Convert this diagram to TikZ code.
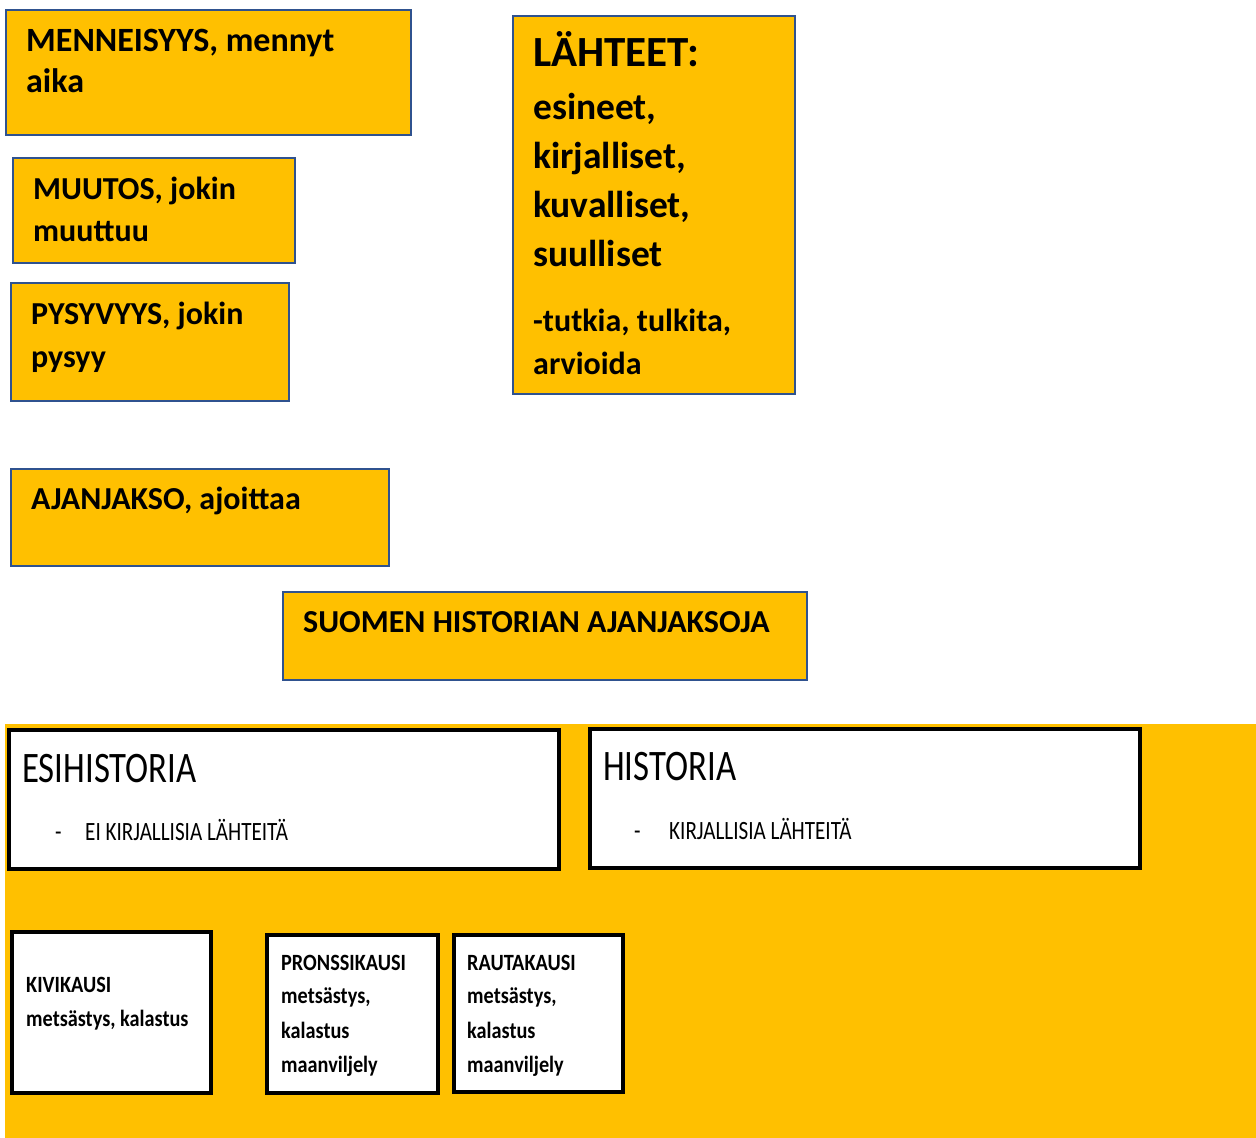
\documentclass[tikz,border=0pt]{standalone}
\usepackage{fontspec}
\setmainfont{Carlito}
\newfontfamily\narrowA[FakeStretch=0.80]{Carlito}
\newfontfamily\narrowB[FakeStretch=0.87]{Carlito}
\usepackage{xcolor}
\definecolor{gold}{RGB}{255,192,0}
\definecolor{edgeBlue}{RGB}{47,82,143}

\begin{document}
\begin{tikzpicture}
[
x=1pt, y=-1pt,
goldBox/.style={
	draw=edgeBlue,
	line width=2pt,
	fill=gold,
	rectangle,
	anchor=north west,
	inner sep=0pt},
whiteBox/.style={
	draw=black,
	line width=4pt,
	fill=white,
	rectangle,
	anchor=north west,
	inner sep=0pt},
txt/.style={
	anchor=base west,
	inner sep=0pt,
	font=\bfseries\fontsize{32}{38}\selectfont},
headTxt/.style={txt, font=\bfseries\fontsize{43}{50}\selectfont},
listTxt/.style={txt, font=\bfseries\fontsize{37.5}{45}\selectfont},
eraTxt/.style={txt, font=\narrowA\fontsize{43.5}{50}\selectfont},
noteTxt/.style={txt, font=\narrowA\fontsize{26.4}{30}\selectfont},
periodTxt/.style={txt, font=\narrowB\bfseries\fontsize{23.3}{28}\selectfont}
]
\useasboundingbox (0,0) rectangle (1256,1138);

%concept boxes
\node[goldBox, minimum width=405pt, minimum height=125pt] (menn) at (5,9) {};
\node[goldBox, minimum width=282pt, minimum height=105pt] (muutos) at (12,157) {};
\node[goldBox, minimum width=278pt, minimum height=118pt] (pysyv) at (10,282) {};
\node[goldBox, minimum width=282pt, minimum height=378pt] (lahteet) at (512,15) {};
\node[goldBox, minimum width=378pt, minimum height=97pt] (ajanj) at (10,468) {};
\node[goldBox, minimum width=524pt, minimum height=88pt] (suomen) at (282,591) {};

\node[txt, font=\bfseries\fontsize{34}{40}\selectfont] (menn1) at (26,51) {MENNEISYYS, mennyt};
\node[txt, font=\bfseries\fontsize{34}{40}\selectfont] (menn2) at (26,92) {aika};
\node[txt] (muutos1) at (33,199) {MUUTOS, jokin};
\node[txt] (muutos2) at (33,241) {muuttuu};
\node[txt] (pysyv1) at (31,324) {PYSYVYYS, jokin};
\node[txt] (pysyv2) at (31,367) {pysyy};
\node[txt] (ajanj1) at (31,509) {AJANJAKSO, ajoittaa};
\node[txt, font=\bfseries\fontsize{32}{38}\selectfont] (suomen1) at (303,632) {SUOMEN HISTORIAN AJANJAKSOJA};

%sources
\node[headTxt] (lh0) at (533,66) {LÄHTEET:};
\node[listTxt] (lh1) at (533,119) {esineet,};
\node[listTxt] (lh2) at (533,168) {kirjalliset,};
\node[listTxt] (lh3) at (533,217) {kuvalliset,};
\node[listTxt] (lh4) at (533,266) {suulliset};
\node[txt] (lh5) at (533,331) {-tutkia, tulkita,};
\node[txt] (lh6) at (533,374) {arvioida};

%time line panel
\node[fill=gold, minimum width=1251pt, minimum height=414pt, anchor=north west, inner sep=0pt] (panel) at (5,724) {};

\node[whiteBox, minimum width=550pt, minimum height=139pt] (esi) at (7,728) {};
\node[whiteBox, minimum width=550pt, minimum height=139pt] (hist) at (588,727) {};
\node[whiteBox, minimum width=199pt, minimum height=161pt] (kivi) at (10,930) {};
\node[whiteBox, minimum width=171pt, minimum height=158pt] (pronssi) at (265,933) {};
\node[whiteBox, minimum width=169pt, minimum height=157pt] (rauta) at (452,933) {};

\node[eraTxt] (esi1) at (22,782) {ESIHISTORIA};
\node[noteTxt] (esiD) at (55,840) {-};
\node[noteTxt] (esi2) at (85,840) {EI KIRJALLISIA LÄHTEITÄ};
\node[eraTxt] (hist1) at (603,780) {HISTORIA};
\node[noteTxt] (histD) at (634,839) {-};
\node[noteTxt] (hist2) at (669,839) {KIRJALLISIA LÄHTEITÄ};

%periods
\node[periodTxt] (kivi1) at (26,992) {KIVIKAUSI};
\node[periodTxt] (kivi2) at (26,1026) {metsästys, kalastus};

\node[periodTxt] (pr1) at (281,970) {PRONSSIKAUSI};
\node[periodTxt] (pr2) at (281,1003) {metsästys,};
\node[periodTxt] (pr3) at (281,1038) {kalastus};
\node[periodTxt] (pr4) at (281,1072) {maanviljely};

\node[periodTxt] (ra1) at (467,970) {RAUTAKAUSI};
\node[periodTxt] (ra2) at (467,1003) {metsästys,};
\node[periodTxt] (ra3) at (467,1038) {kalastus};
\node[periodTxt] (ra4) at (467,1072) {maanviljely};

\end{tikzpicture}
\end{document}
